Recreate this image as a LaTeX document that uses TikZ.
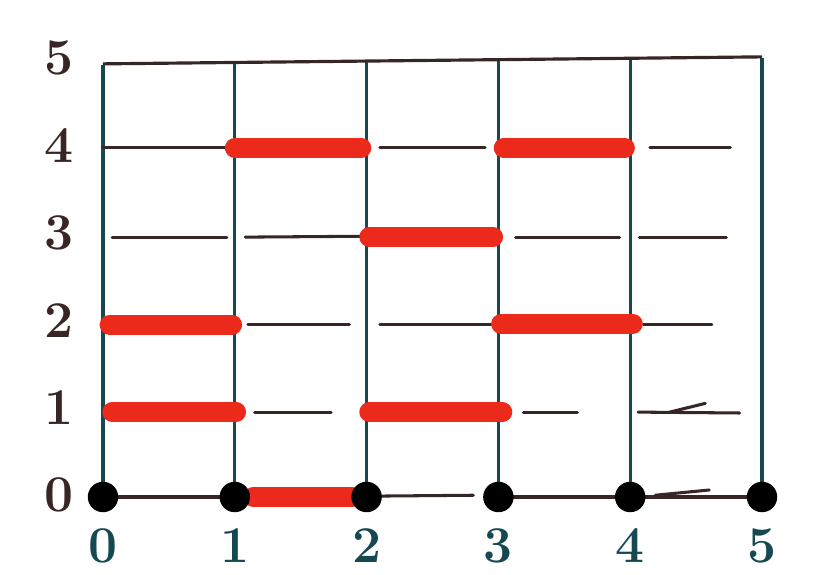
\documentclass[tikz,border=0pt]{standalone}
\usepackage{tikz}

\definecolor{gridteal}{RGB}{22,72,82}
\definecolor{inkbrown}{RGB}{55,38,36}
\definecolor{markred}{RGB}{236,42,28}

\tikzset{
  gridline/.style={gridteal, line width=2.7pt},
  blackbar/.style={inkbrown, line width=2.6pt, line cap=round},
  redbar/.style={markred, line width=17pt, line cap=round},
  knot/.style={circle, fill=black, inner sep=0pt, minimum size=26pt},
  numlabel/.style={font=\fontsize{44}{44}\selectfont\bfseries}
}

\begin{document}
\begin{tikzpicture}[x=3.954cm, y=2.625cm]
  \useasboundingbox (-0.7815,-0.891) rectangle (5.516,5.68);
  \fill[white] (-0.7815,-0.891) rectangle (5.516,5.68);

  % Coordinates
  \foreach \i in {0,...,5}
    \coordinate (b\i) at (\i,0);
  \coordinate (t0) at (0,4.94);
  \coordinate (t1) at (1,4.96);
  \coordinate (t2) at (2,4.97);
  \coordinate (t3) at (3,4.99);
  \coordinate (t4) at (4,5.01);
  \coordinate (t5) at (5,5.02);

  % Vertical lines and top line
  \foreach \i in {0,...,5}
    \draw[gridline] (b\i) -- (t\i);
  \draw[inkbrown, line width=2.7pt] (0,4.95) -- (5,5.03);

  % Black bars
  \draw[blackbar] (0,3.99) -- (1,3.99);
  \draw[blackbar] (2.10,3.99) -- (2.90,3.99);
  \draw[blackbar] (4.15,3.99) -- (4.76,3.99);
  \draw[blackbar] (0.07,2.97) -- (0.94,2.97);
  \draw[blackbar] (1.08,2.97) -- (2.00,2.98);
  \draw[blackbar] (3.13,2.97) -- (3.92,2.97);
  \draw[blackbar] (4.07,2.97) -- (4.73,2.97);
  \draw[blackbar] (1.10,1.97) -- (1.87,1.97);
  \draw[blackbar] (2.10,1.97) -- (3.00,1.97);
  \draw[blackbar] (4.10,1.97) -- (4.62,1.97);
  \draw[blackbar] (1.15,0.97) -- (1.73,0.97);
  \draw[blackbar] (3.19,0.97) -- (3.60,0.97);
  \draw[blackbar] (4.06,0.97) -- (4.83,0.96);
  \draw[blackbar] (4.30,0.97) -- (4.57,1.07);
  \draw[blackbar] (b0) -- (b1);
  \draw[blackbar] (2.06,0.01) -- (2.81,0.02);
  \draw[blackbar] (b3) -- (b4);
  \draw[blackbar] (b4) -- (b5);
  \draw[blackbar] (4.19,0.02) -- (4.60,0.08);

  % Red bars
  \draw[redbar] (1.0,3.99) -- (1.96,3.99);
  \draw[redbar] (3.04,3.99) -- (3.96,3.99);
  \draw[redbar] (2.02,2.97) -- (2.96,2.97);
  \draw[redbar] (0.05,1.97) -- (0.98,1.97);
  \draw[redbar] (3.02,1.98) -- (4.02,1.98);
  \draw[redbar] (0.07,0.97) -- (1.01,0.97);
  \draw[redbar] (2.02,0.97) -- (3.03,0.97);
  \draw[redbar] (1.14,0.0) -- (1.89,0.0);

  % Dots on the bottom line
  \foreach \i in {0,...,5}
    \node[knot] (k\i) at (b\i) {};

  % Labels for levels
  \foreach \j in {0,...,5}
    \node[numlabel, inkbrown] (y\j) at (-0.33,\j+0.02) {\j};

  % Labels for columns
  \foreach \i in {0,...,5}
    \node[numlabel, gridteal] (x\i) at (\i,-0.56) {\i};
\end{tikzpicture}
\end{document}
